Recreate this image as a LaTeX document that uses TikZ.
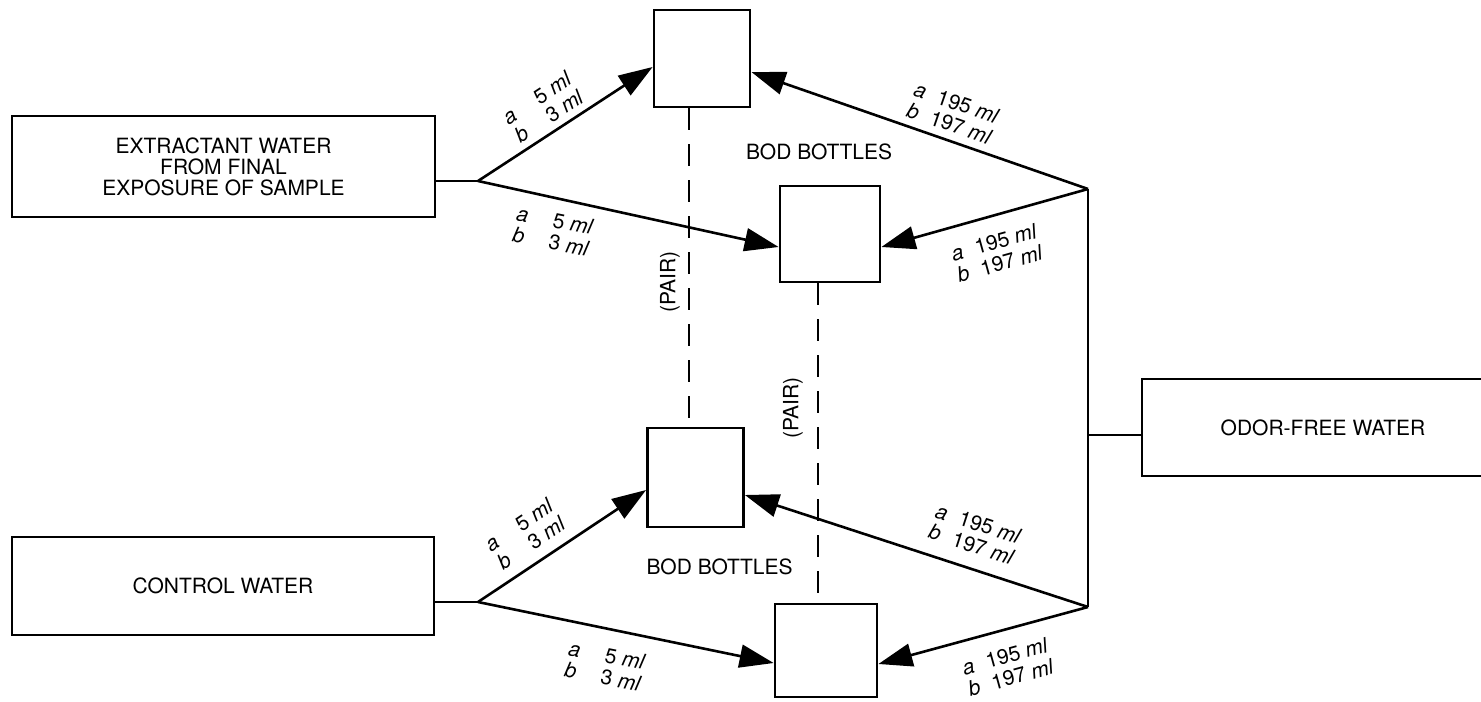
\documentclass[tikz,border=0pt]{standalone}
\usepackage{fontspec}
\setmainfont{TeX Gyre Heros}
\usetikzlibrary{arrows.meta, calc}
\tikzset{
	feed/.style={rectangle, draw, line width=1.4pt, align=center, inner sep=0pt, font=\fontsize{10.5}{10.5}\selectfont},
	bottle/.style={rectangle, draw, line width=1.4pt, minimum width=48pt, minimum height=48pt, inner sep=0pt},
	pipe/.style={draw, line width=1.3pt},
	flow/.style={draw, line width=1.3pt, -{Triangle[length=17pt, width=11.5pt]}},
	pairline/.style={draw, line width=1.3pt, dash pattern=on 11pt off 7pt},
	vol/.style={align=left, inner sep=0pt, font=\fontsize{10.5}{11}\selectfont},
	tag/.style={inner sep=0pt, font=\fontsize{10.5}{12}\selectfont}
}

\begin{document}
\begin{tikzpicture}[x=0.5pt, y=-0.5pt]
	\useasboundingbox (0,0) rectangle (1481,701);

	% water sources
	\node[feed, minimum width=211.5pt, minimum height=50.5pt] (extract) at (223.5,166.5) {EXTRACTANT WATER\\FROM FINAL\\EXPOSURE OF SAMPLE};
	\node[feed, minimum width=211pt, minimum height=49pt] (control) at (223,586) {CONTROL WATER};
	\node[feed, minimum width=181pt, minimum height=48.5pt] (odor) at (1323,427.5) {ODOR-FREE WATER};

	% BOD bottles
	\node[bottle, minimum height=48.5pt] (b1) at (702,58.5) {};
	\node[bottle, minimum width=50pt] (b2) at (830,234) {};
	\node[bottle, minimum height=49.5pt] (b3) at (695.5,477.5) {};
	\node[bottle, minimum width=51pt, minimum height=46.5pt] (b4) at (826,650.5) {};
	\node[tag] (bodtop) at (819,152) {BOD BOTTLES};
	\node[tag] (bodbot) at (719.5,567) {BOD BOTTLES};

	% branch points
	\coordinate (jsrc) at (478,181);
	\coordinate (jctl) at (478,602);
	\coordinate (jtop) at (1088,189);
	\coordinate (jbot) at (1088,607);
	\coordinate (jodor) at (1088,435);

	\draw[pipe] (extract.east |- jsrc) -- (jsrc);
	\draw[pipe] (control.east |- jctl) -- (jctl);
	\draw[pipe] (jtop) -- (jbot);
	\draw[pipe] (jodor) -- (odor.west |- jodor);

	% sample and control portions
	\draw[flow] (jsrc) -- ($(b1.west)+(0,8.5)$);
	\draw[flow] (jsrc) -- ($(b2.west)+(0,13)$);
	\draw[flow] (jctl) -- ($(b3.west)+(0,12.5)$);
	\draw[flow] (jctl) -- ($(b4.west)+(0,12.5)$);

	% dilution water portions
	\draw[flow] (jtop) -- ($(b1.east)+(0,13.5)$);
	\draw[flow] (jtop) -- ($(b2.east)+(0,13)$);
	\draw[flow] (jbot) -- ($(b3.east)+(0,17.5)$);
	\draw[flow] (jbot) -- ($(b4.east)+(0,13.5)$);

	% pairs
	\draw[pairline] ($(b1.south)+(-13,0)$) -- ($(b3.north)+(-6.5,0)$);
	\draw[pairline] ($(b2.south)+(-12,0)$) -- ($(b4.north)+(-8,0)$);
	\node[tag, rotate=90] (pairA) at (670,282) {(PAIR)};
	\node[tag, rotate=90] (pairB) at (793,408) {(PAIR)};

	% volumes
	\node[vol, rotate=33] (volA) at (543,107) {\textit{a}\hspace{1.2em}5 \textit{ml}\\\textit{b}\hspace{1.2em}3 \textit{ml}};
	\node[vol, rotate=-11] (volB) at (553,231) {\textit{a}\hspace{1.2em}5 \textit{ml}\\\textit{b}\hspace{1.2em}3 \textit{ml}};
	\node[vol, rotate=34] (volC) at (525,534) {\textit{a}\hspace{1.2em}5 \textit{ml}\\\textit{b}\hspace{1.2em}3 \textit{ml}};
	\node[vol, rotate=-11] (volD) at (605,666) {\textit{a}\hspace{1.2em}5 \textit{ml}\\\textit{b}\hspace{1.2em}3 \textit{ml}};
	\node[vol, rotate=-19] (volE) at (953,113) {\textit{a}\hspace{0.6em}195 \textit{ml}\\\textit{b}\hspace{0.6em}197 \textit{ml}};
	\node[vol, rotate=15.5] (volF) at (997,253) {\textit{a}\hspace{0.6em}195 \textit{ml}\\\textit{b}\hspace{0.6em}197 \textit{ml}};
	\node[vol, rotate=-18] (volG) at (975,534) {\textit{a}\hspace{0.6em}195 \textit{ml}\\\textit{b}\hspace{0.6em}197 \textit{ml}};
	\node[vol, rotate=15.5] (volH) at (1008,667) {\textit{a}\hspace{0.6em}195 \textit{ml}\\\textit{b}\hspace{0.6em}197 \textit{ml}};
\end{tikzpicture}
\end{document}
